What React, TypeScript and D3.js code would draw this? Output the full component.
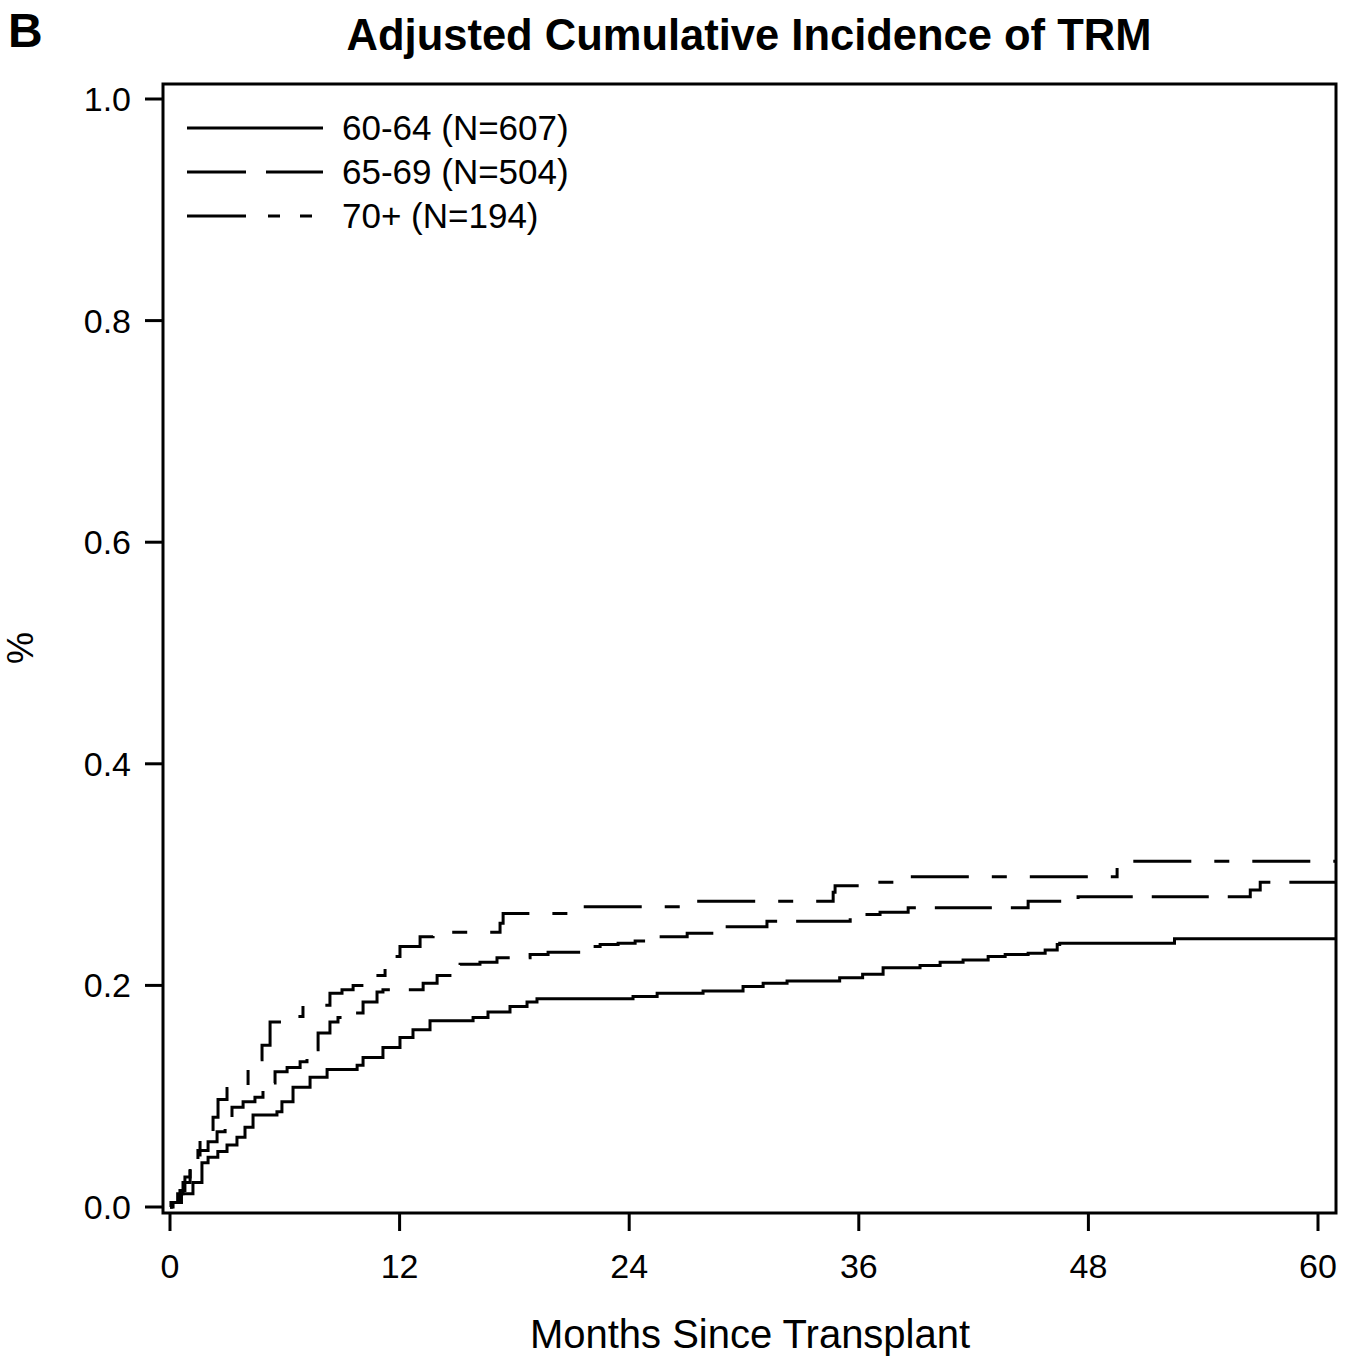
import React from "react";
import * as d3 from "d3";

const yTicks = [0, 0.2, 0.4, 0.6, 0.8, 1.0];
const xTicks = [0, 12, 24, 36, 48, 60];

const groupLabels = ["60-64 (N=607)", "65-69 (N=504)", "70+ (N=194)"];

const t6064 = [0, 0.09, 0.6, 1.2, 1.67, 1.99, 2.5, 2.98, 3.5, 3.92, 4.34, 5.59, 5.85, 6.43, 7.32, 8.21, 9.78, 10.09, 11.13, 12.02, 12.7, 13.59, 15.84, 16.62, 17.77, 18.66, 19.18, 24.2, 25.46, 27.86, 29.95, 31.0, 32.25, 35.0, 36.2, 37.27, 39.2, 40.25, 41.45, 42.76, 43.65, 44.85, 45.74, 46.37, 46.5, 52.5];
const v6064 = [0, 0.004, 0.012, 0.022, 0.04, 0.045, 0.05, 0.056, 0.063, 0.072, 0.083, 0.086, 0.095, 0.108, 0.117, 0.124, 0.128, 0.135, 0.144, 0.153, 0.16, 0.168, 0.171, 0.176, 0.181, 0.185, 0.188, 0.19, 0.193, 0.195, 0.199, 0.202, 0.204, 0.207, 0.21, 0.216, 0.218, 0.221, 0.223, 0.226, 0.228, 0.229, 0.232, 0.237, 0.238, 0.242];

const t6569 = [0, 0.05, 0.4, 0.68, 1.05, 1.46, 1.99, 2.46, 2.88, 3.24, 3.82, 4.44, 4.86, 5.49, 6.12, 6.8, 7.16, 7.74, 8.36, 8.78, 9.51, 10.09, 10.82, 11.13, 13.23, 13.96, 14.79, 15.16, 16.2, 17.09, 18.82, 19.76, 21.8, 22.48, 23.42, 24.31, 25.46, 27.03, 29.12, 31.2, 35.55, 36.23, 37.11, 38.58, 44.85, 47.46, 56.46, 56.98];
const v6569 = [0, 0.004, 0.012, 0.022, 0.036, 0.051, 0.059, 0.068, 0.077, 0.09, 0.095, 0.099, 0.112, 0.122, 0.126, 0.131, 0.142, 0.157, 0.167, 0.171, 0.175, 0.185, 0.194, 0.196, 0.202, 0.209, 0.212, 0.219, 0.221, 0.225, 0.228, 0.23, 0.235, 0.237, 0.238, 0.24, 0.244, 0.247, 0.253, 0.258, 0.262, 0.264, 0.266, 0.27, 0.276, 0.28, 0.286, 0.293];

const t70 = [0, 0.16, 0.52, 0.78, 1.05, 1.57, 2.25, 2.51, 2.98, 3.66, 4.08, 4.34, 4.81, 5.23, 5.9, 6.95, 8.36, 8.99, 9.57, 10.35, 11.24, 11.5, 12.02, 13.07, 13.75, 17.25, 17.41, 21.17, 27.03, 34.66, 34.76, 36.96, 38.0, 49.5];
const v70 = [0, 0.004, 0.015, 0.027, 0.047, 0.06, 0.081, 0.097, 0.107, 0.108, 0.126, 0.133, 0.146, 0.167, 0.172, 0.182, 0.193, 0.196, 0.2, 0.209, 0.218, 0.226, 0.235, 0.244, 0.248, 0.256, 0.265, 0.271, 0.276, 0.284, 0.29, 0.293, 0.298, 0.312];

const seriesTimes = [t6064, t6569, t70];
const seriesValues = [v6064, v6569, v70];
const dashes = ["none", "57,19", "58,23,15,23"];
const legendDashes = ["none", "59,20", "59,22,12,20,12,20"];

const W = 1358;
const H = 1359;
const frame = { left: 163, right: 1336, top: 84, bottom: 1213 };

export default function App() {
  const x = d3.scaleLinear().domain([0, 60]).range([170, 1318]);
  const y = d3.scaleLinear().domain([0, 1]).range([1207, 99]);
  const xMax = x.invert(frame.right - 1);

  const line = d3
    .line<[number, number]>()
    .x((d) => x(d[0]))
    .y((d) => y(d[1]))
    .curve(d3.curveStepAfter);

  const paths = seriesTimes.map((ts, i) => {
    const pts: [number, number][] = ts.map((t, j) => [t, seriesValues[i][j]]);
    pts.push([xMax, seriesValues[i][seriesValues[i].length - 1]]);
    return line(pts) || "";
  });

  const font = "'Liberation Sans', Arial, sans-serif";

  return (
    <svg
      width={W}
      height={H}
      style={{ position: "absolute", left: 0, top: 0, background: "#fff" }}
      fontFamily={font}
    >
      <rect x={0} y={0} width={W} height={H} fill="#fff" />
      <text x={8} y={47} fontSize={48} fontWeight="bold" fill="#000">B</text>
      <text x={749} y={50} fontSize={43.5} fontWeight="bold" textAnchor="middle" fill="#000">
        Adjusted Cumulative Incidence of TRM
      </text>

      {/* curves */}
      <g fill="none" stroke="#000" strokeWidth={3}>
        {paths.map((p, i) => (
          <path key={i} d={p} strokeDasharray={dashes[i]} />
        ))}
      </g>

      {/* frame */}
      <rect
        x={frame.left}
        y={frame.top}
        width={frame.right - frame.left}
        height={frame.bottom - frame.top}
        fill="none"
        stroke="#000"
        strokeWidth={3}
      />

      {/* y axis */}
      {yTicks.map((t) => (
        <g key={t}>
          <line x1={145} x2={frame.left} y1={y(t)} y2={y(t)} stroke="#000" strokeWidth={3} />
          <text x={131} y={y(t) + 12} fontSize={34} textAnchor="end" fill="#000">
            {t.toFixed(1)}
          </text>
        </g>
      ))}
      {/* x axis */}
      {xTicks.map((t) => (
        <g key={t}>
          <line x1={x(t)} x2={x(t)} y1={frame.bottom} y2={frame.bottom + 18} stroke="#000" strokeWidth={3} />
          <text x={x(t)} y={1278} fontSize={34} textAnchor="middle" fill="#000">
            {t}
          </text>
        </g>
      ))}
      <text x={750} y={1348} fontSize={40} textAnchor="middle" fill="#000">
        Months Since Transplant
      </text>
      <text
        transform={`translate(33,648) rotate(-90)`}
        fontSize={36}
        textAnchor="middle"
        fill="#000"
      >
        %
      </text>

      {/* legend */}
      {groupLabels.map((lab, i) => {
        const ly = 128 + i * 44;
        return (
          <g key={lab}>
            <line x1={187} x2={323} y1={ly} y2={ly} stroke="#000" strokeWidth={3} strokeDasharray={legendDashes[i]} />
            <text x={342} y={ly + 12} fontSize={35} fill="#000">
              {lab}
            </text>
          </g>
        );
      })}
    </svg>
  );
}
